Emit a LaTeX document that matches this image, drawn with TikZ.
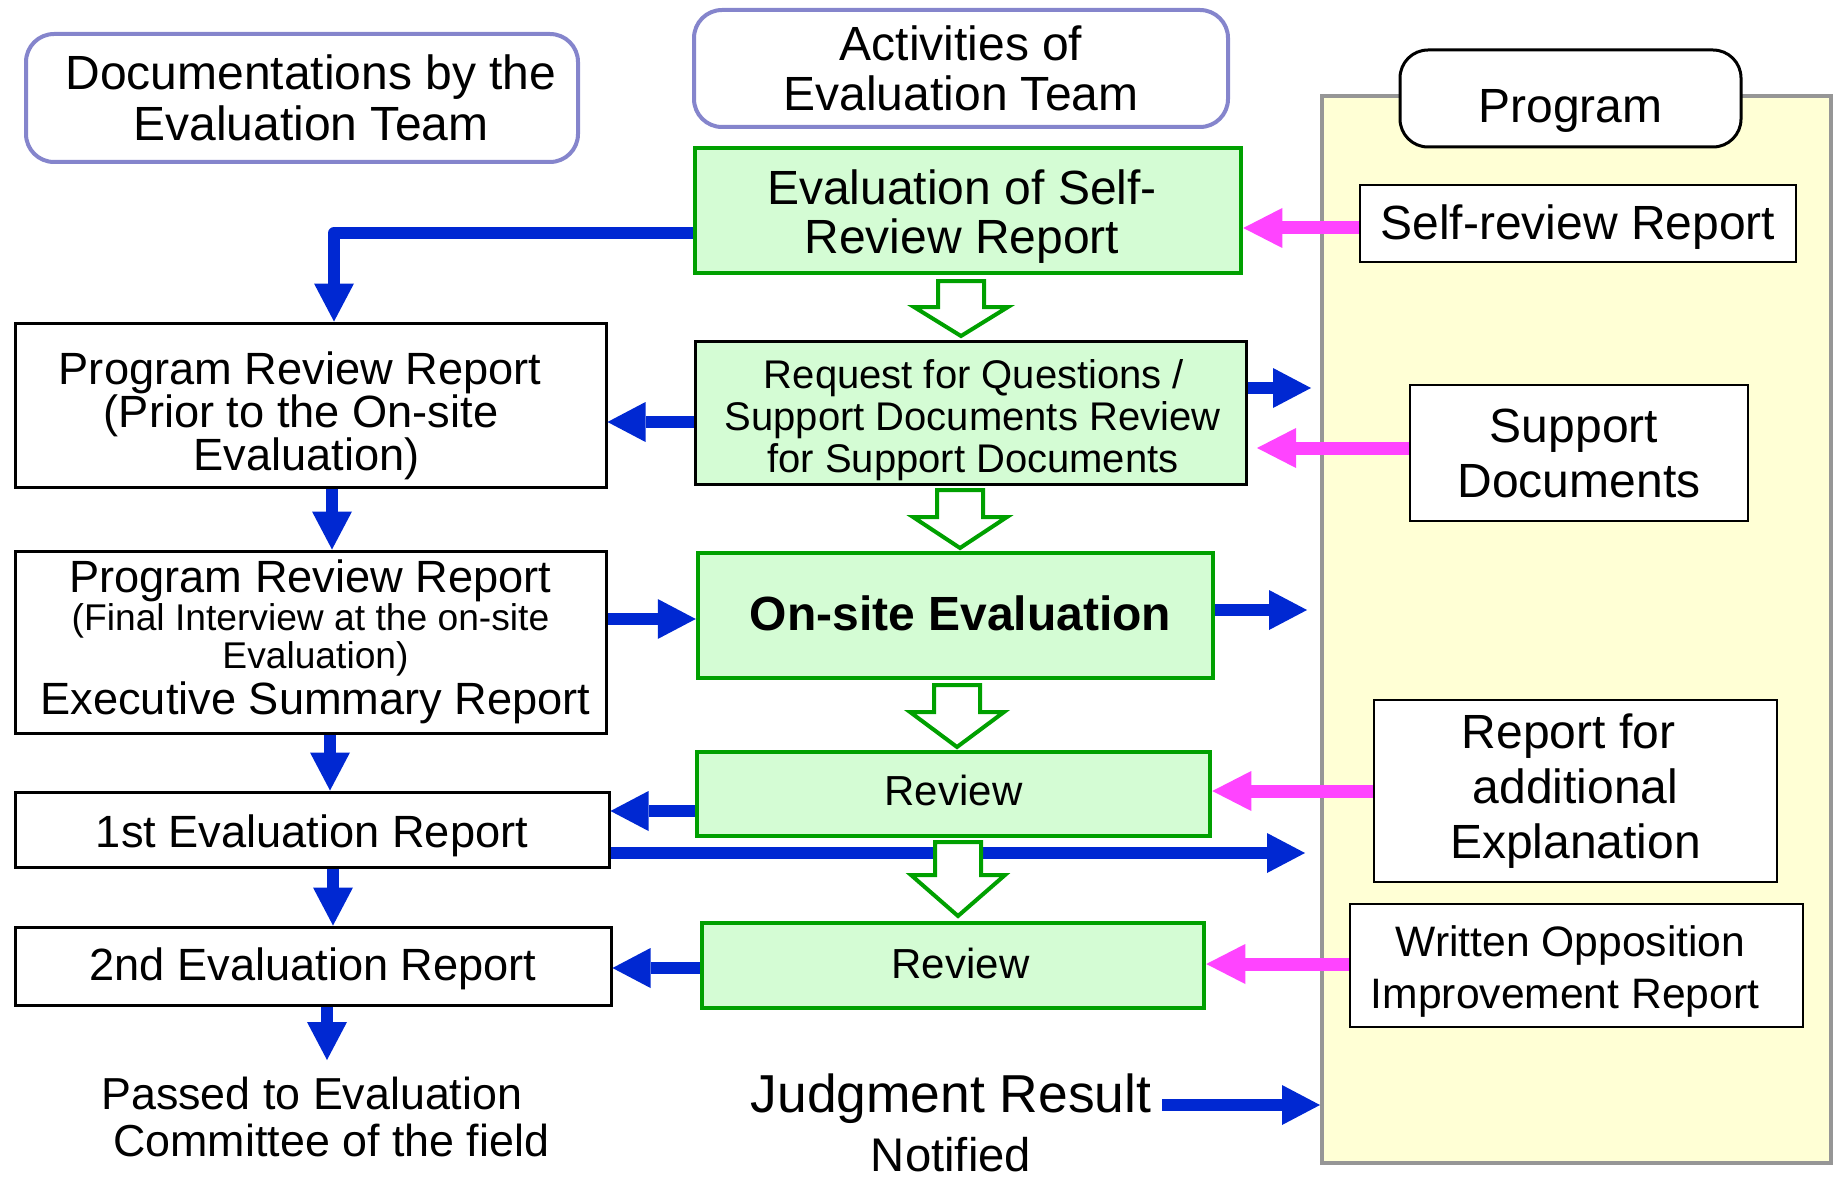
\documentclass[tikz,border=0pt]{standalone}
\usepackage{fontspec}
\setmainfont{Liberation Sans}
\usetikzlibrary{arrows.meta}
\definecolor{ablue}{RGB}{0,40,210}
\definecolor{amag}{RGB}{255,68,255}
\definecolor{agreen}{RGB}{0,160,0}
\definecolor{lgreen}{RGB}{212,252,212}
\definecolor{lyellow}{RGB}{255,255,213}
\definecolor{lav}{RGB}{133,133,204}
\definecolor{pgray}{RGB}{150,150,150}
\newcommand\fs[2]{\fontsize{#1}{#2}\selectfont}
\newcommand\dn[1]{\rule{0pt}{\dimexpr0.75em+#1pt\relax}}
\newcommand\hs[1]{\hspace*{#1pt}}
\newcommand\hollowarrow[4]{%
  \draw[hollow] ({#1-23},#2) -- ({#1+23},#2) -- ({#1+23},#3) -- ({#1+47},#3) -- (#1,#4)
    -- ({#1-47},#3) -- ({#1-23},#3) -- cycle;}
\begin{document}
\begin{tikzpicture}[x=0.5pt,y=-0.5pt,
 hdr/.style={draw=lav,line width=2pt,rounded corners=14pt,fill=white,align=center,inner sep=0pt},
 gbox/.style={draw=agreen,line width=2.25pt,fill=lgreen,align=center,inner sep=0pt},
 wbox/.style={draw=black,line width=1.5pt,fill=white,align=center,inner sep=0pt},
 rbox/.style={draw=black,line width=1.2pt,fill=white,align=center,inner sep=0pt},
 barrow/.style={draw=ablue,line width=6pt,line join=round,-{Triangle[width=20pt,length=19pt,line width=0pt]}},
 marrow/.style={draw=amag,line width=6.5pt,-{Triangle[width=20pt,length=19.5pt,line width=0pt]}},
 hollow/.style={draw=agreen,line width=2pt,fill=white,line join=miter},
 plain/.style={inner sep=0pt}
]
\useasboundingbox (0,0) rectangle (1835,1182);
% program panel
\node[draw=pgray,line width=2pt,fill=lyellow,minimum width=254.5pt,minimum height=533.5pt,inner sep=0pt] (panel) at (1576.5,629.5) {};
% headers
\node[hdr,minimum width=276pt,minimum height=64pt,font={\fs{24}{25.5}}] (hdrL) at (302,98) {\hs{9}Documentations by the\\\hs{9}Evaluation Team};
\node[hdr,minimum width=267pt,minimum height=58.5pt,font={\fs{24}{25}}] (hdrM) at (961,68.5) {Activities of\\Evaluation Team};
\node[hdr,draw=black,line width=1.5pt,minimum width=170.5pt,minimum height=48.5pt,font={\fs{24}{25}},text height=24.5pt,text depth=0pt] (hdrP) at (1570.5,98.5) {Program};
% middle column
\node[gbox,minimum width=273pt,minimum height=62.5pt,font={\fs{24}{24.5}}] (g1) at (968,210.5) {\dn{5}Evaluation of Self-\hs{6}\\Review Report\hs{6}};
\node[gbox,draw=black,line width=1.5pt,minimum width=275.5pt,minimum height=71.5pt,font={\fs{20}{21}}] (g2) at (970.5,412.5) {\dn{7}\hs{3.5}Request for Questions /\\\hs{2}Support Documents Review\\\hs{2.5}for Support Documents};
\node[gbox,minimum width=257.5pt,minimum height=62.5pt,font={\fs{24}{25}\bfseries},text height=14.5pt,text depth=0pt] (g3) at (955.5,615.5) {\hs{5}On-site Evaluation};
\node[gbox,minimum width=256.5pt,minimum height=42pt,font={\fs{21}{22}},text height=11pt,text depth=0pt] (g4) at (953.5,794) {Review};
\node[gbox,minimum width=251pt,minimum height=42.5pt,font={\fs{21}{22}},text height=12.5pt,text depth=0pt] (g5) at (953,965.5) {\hs{7.5}Review};
% left column
\node[wbox,minimum width=295.5pt,minimum height=82pt,font={\fs{22.6}{21.5}}] (bA) at (310.5,405) {\dn{10}Program Review Report\hs{10.5}\\\hs{-9.5}(Prior to the On-site\\Evaluation)\hs{4}};
\node[wbox,minimum width=295.5pt,minimum height=91pt,font={\fs{18.6}{19}}] (bB) at (310.5,642) {{\fs{22.6}{19}Program Review Report}\\(Final Interview at the on-site\\\hs{5}Evaluation)\\[1.5pt]{\fs{22.6}{19}\hs{5}Executive Summary Report}};
\node[wbox,minimum width=297pt,minimum height=37.5pt,font={\fs{22.6}{23}},text height=17.5pt,text depth=0pt] (bC) at (312,829.5) {1st Evaluation Report};
\node[wbox,minimum width=298pt,minimum height=39pt,font={\fs{22.6}{23}},text height=14pt,text depth=0pt] (bD) at (313,966) {2nd Evaluation Report};
% right column
\node[rbox,minimum width=218pt,minimum height=38.5pt,font={\fs{24}{25}},text height=16.5pt,text depth=0pt] (rS) at (1578,223.5) {Self-review Report};
\node[rbox,minimum width=169pt,minimum height=68pt,font={\fs{24}{27.5}}] (rD) at (1579,453) {Support\hs{5}\\Documents};
\node[rbox,minimum width=201.5pt,minimum height=91pt,font={\fs{24}{27.5}}] (rR) at (1575.5,791) {Report for\hs{7}\\additional\hs{6}\\Explanation};
\node[rbox,minimum width=226.5pt,minimum height=61.5pt,font={\fs{21.3}{26}}] (rW) at (1576.5,965.5) {\dn{5}Written Opposition\hs{6}\\Improvement Report\hs{11.5}};
% bottom texts
\node[plain,align=left,anchor=west,font={\fs{22.4}{23.5}}] (passed) at (101,1117) {Passed to Evaluation\\\hspace*{6pt}Committee of the field};
\node[plain,align=center,font={\fs{26.7}{29.5}}] (judg) at (951,1123) {Judgment Result\\{\fs{23.6}{29.5}Notified}};
% free ends
\coordinate (c1) at (1311,388);
\coordinate (f1) at (1307,610);
\coordinate (i1) at (1305,853);
\coordinate (l1) at (327,1060);
\coordinate (m0) at (1162,1105);
\coordinate (p2) at (1257,448);
% blue arrows
\draw[barrow] (g1.west |- 0,233) -| (334,0 |- bA.north);
\draw[barrow] (g2.west |- 0,422) -- (bA.east |- 0,422);
\draw[barrow] (g2.east |- c1) -- (c1);
\draw[barrow] (332,0 |- bA.south) -- (332,0 |- bB.north);
\draw[barrow] (bB.east |- 0,619) -- (g3.west |- 0,619);
\draw[barrow] (g3.east |- f1) -- (f1);
\draw[barrow] (330,0 |- bB.south) -- (330,0 |- bC.north);
\draw[barrow] (g4.west |- 0,811) -- (bC.east |- 0,811);
\draw[barrow] (bC.east |- i1) -- (i1);
\draw[barrow] (333,0 |- bC.south) -- (333,0 |- bD.north);
\draw[barrow] (g5.west |- 0,968) -- (bD.east |- 0,968);
\draw[barrow] (l1 |- bD.south) -- (l1);
\draw[barrow] (m0) -- (panel.west |- m0);
% magenta arrows
\draw[marrow] (rS.west |- 0,228) -- (g1.east |- 0,228);
\draw[marrow] (rD.west |- p2) -- (p2);
\draw[marrow] (rR.west |- 0,791) -- (g4.east |- 0,791);
\draw[marrow] (rW.west |- 0,964) -- (g5.east |- 0,964);
% hollow flow arrows
\hollowarrow{961}{281}{307}{336}
\hollowarrow{960}{490}{517}{548}
\hollowarrow{957}{685}{712}{747}
\hollowarrow{958}{842}{875}{916}
\end{tikzpicture}
\end{document}
